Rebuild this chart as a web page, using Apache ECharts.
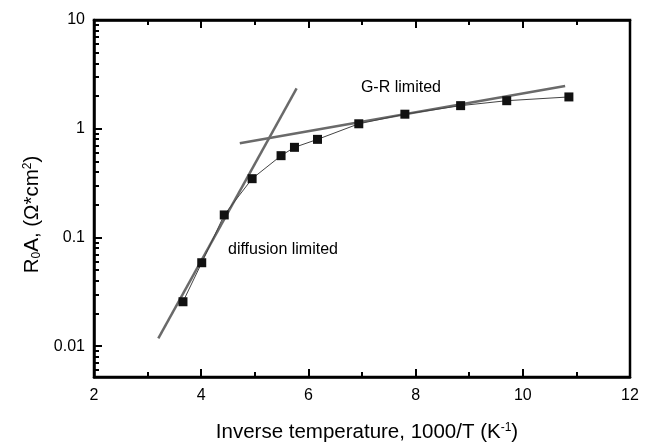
<!DOCTYPE html>
<html>
<head>
<meta charset="utf-8">
<script src="https://cdn.jsdelivr.net/npm/echarts@6/dist/echarts.min.js"></script>
<style>
  html, body { margin: 0; padding: 0; background: #fff; }
  #chart { width: 649px; height: 443px; }
</style>
</head>
<body>
<div id="chart"></div>
<script>
// measured points: 1000/T (K^-1) vs R0A (Ohm*cm^2)
const invTemp = [3.66, 4.01, 4.43, 4.95, 5.49, 5.74, 6.17, 6.94, 7.80, 8.84, 9.70, 10.86];
const r0a = [0.0256, 0.0585, 0.161, 0.347, 0.565, 0.674, 0.798, 1.11, 1.36, 1.63, 1.81, 1.96];

// fitted lines (end points)
const diffusionX = [3.20, 5.78];
const diffusionY = [0.0118, 2.35];
const grX = [4.72, 10.79];
const grY = [0.734, 2.47];

// annotation anchors
const notes = [
    { text: 'G-R limited', x: 6.98, y: 2.37 },
    { text: 'diffusion limited', x: 4.50, y: 0.0766 }
];

const majorY = [0.01, 0.1, 1, 10];
const minorY = [];
[0.001, 0.01, 0.1, 1].forEach(d => {
    for (let k = 2; k <= 9; k++) minorY.push(+(k * d).toPrecision(2));
});

const pairs = (xs, ys) => xs.map((x, i) => [x, ys[i]]);

const font = 'Liberation Sans, Arial, sans-serif';
const yMin = 0.0052, yMax = 10;

const chart = echarts.init(document.getElementById('chart'));

const xBase = {
    type: 'value', min: 2, max: 12, interval: 2,
    axisLine: { lineStyle: { color: '#000', width: 2.5 } },
    axisTick: { inside: true, length: 8, lineStyle: { color: '#000', width: 2 } },
    minorTick: { show: true, splitNumber: 2, length: 5, lineStyle: { color: '#000', width: 2 } },
    splitLine: { show: false }
};

chart.setOption({
    backgroundColor: '#fff',
    animation: false,
    textStyle: { fontFamily: font },
    grid: {
        left: 94, top: 20, right: 19, bottom: 66,
        outerBoundsMode: 'none', containLabel: false,
        show: true, borderColor: '#000', borderWidth: 2.5
    },
    xAxis: [
        Object.assign({}, xBase, {
            position: 'bottom',
            axisLabel: { color: '#000', fontSize: 16, margin: 11, fontFamily: font },
            name: 'Inverse temperature, 1000/T (K{sup|-1})',
            nameLocation: 'middle',
            nameGap: 45,
            nameTextStyle: {
                color: '#000', fontSize: 20.5, fontFamily: font, padding: [0, 0, 0, 10],
                rich: { sup: { fontSize: 12, verticalAlign: 'top', fontFamily: font, color: '#000' } }
            }
        }),
        Object.assign({}, xBase, {
            position: 'top',
            axisLabel: { show: false }
        })
    ],
    yAxis: [
        {
            type: 'log', logBase: 10, min: yMin, max: yMax, position: 'left',
            axisLine: { lineStyle: { color: '#000', width: 2.5 } },
            axisTick: { inside: true, length: 8, customValues: majorY, lineStyle: { color: '#000', width: 2 } },
            axisLabel: {
                color: '#000', fontSize: 16, margin: 9, fontFamily: font,
                customValues: majorY, formatter: v => String(v)
            },
            splitLine: { show: false },
            name: 'R{sub|0}A, (Ω*cm{sup|2})',
            nameLocation: 'middle',
            nameRotate: 90,
            nameGap: 50,
            nameTextStyle: {
                color: '#000', fontSize: 20.5, fontFamily: font, padding: [0, 32, 0, 0],
                rich: {
                    sub: { fontSize: 12, verticalAlign: 'bottom', fontFamily: font, color: '#000' },
                    sup: { fontSize: 12, verticalAlign: 'top', fontFamily: font, color: '#000' }
                }
            }
        },
        {
            type: 'log', logBase: 10, min: yMin, max: yMax, position: 'left',
            axisLine: { show: false },
            axisTick: { inside: true, length: 5, customValues: minorY, lineStyle: { color: '#000', width: 2 } },
            axisLabel: { show: false, customValues: minorY },
            splitLine: { show: false }
        }
    ],
    series: [
        {
            type: 'line', data: pairs(diffusionX, diffusionY), symbol: 'none', z: 2,
            lineStyle: { color: '#6a6a6a', width: 2.5 }
        },
        {
            type: 'line', data: pairs(grX, grY), symbol: 'none', z: 2,
            lineStyle: { color: '#6a6a6a', width: 2.5 }
        },
        {
            type: 'line', data: pairs(invTemp, r0a), z: 3,
            symbol: 'rect', symbolSize: 9,
            itemStyle: { color: '#111' },
            lineStyle: { color: '#444', width: 1 }
        },
        {
            type: 'scatter', symbolSize: 0, z: 4,
            data: notes.map(n => ({ value: [n.x, n.y], name: n.text })),
            label: {
                show: true, position: 'right', distance: 0, opacity: 1,
                formatter: p => p.name, color: '#000', fontSize: 16, fontFamily: font
            },
            silent: true
        }
    ]
});
</script>
</body>
</html>
